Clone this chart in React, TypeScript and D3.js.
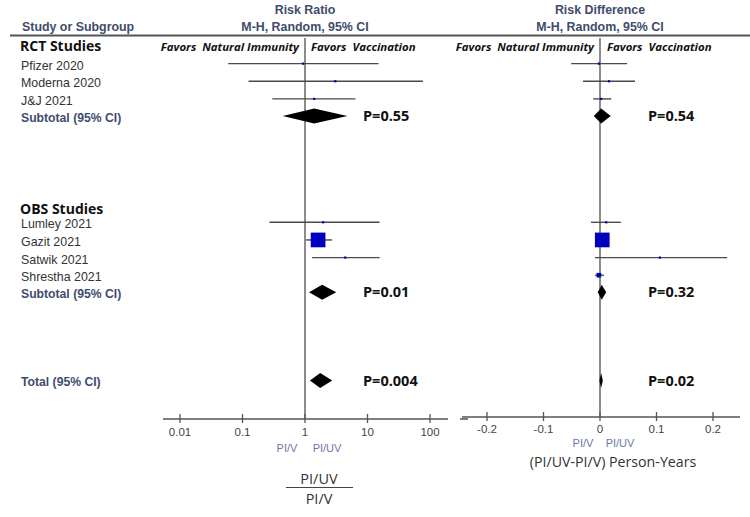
import React from "react";
import { scaleLog, scaleLinear, scaleSqrt } from "d3";

// ---- data ----
const rowLabels = ["Pfizer 2020", "Moderna 2020", "J&J 2021", "Lumley 2021", "Gazit 2021", "Satwik 2021", "Shrestha 2021"];
const rowIndex = [1, 2, 3, 10, 11, 12, 13];
const groupLabels = ["RCT Studies", "OBS Studies"];
const groupIndex = [0, 9.25];
const summaryLabels = ["Subtotal (95% CI)", "Subtotal (95% CI)", "Total (95% CI)"];
const summaryIndex = [4, 14, 19];

// risk ratio per study: estimate, lower, upper (Shrestha not estimable)
const rrEst = [0.93, 3.05, 1.4, 1.95, 1.62, 4.4, null];
const rrLow = [0.059, 0.125, 0.3, 0.27, 1.04, 1.3, null];
const rrHigh = [15, 77, 6.4, 15.6, 2.72, 15.6, null];
const rrWeight = [0.3, 0.3, 1.5, 0.8, 90, 0.8, 0];
const rrSumEst = [1.4, 1.88, 1.75];
const rrSumLow = [0.44, 1.16, 1.2];
const rrSumHigh = [4.76, 3.16, 2.72];
const rrP = ["P=0.55", "P=0.01", "P=0.004"];

// risk difference per study
const rdEst = [-0.002, 0.016, 0.002, 0.011, 0.004, 0.106, -0.002];
const rdLow = [-0.051, -0.03, -0.012, -0.016, 0.0, -0.009, -0.009];
const rdHigh = [0.048, 0.062, 0.02, 0.037, 0.008, 0.225, 0.007];
const rdWeight = [0.3, 0.3, 0.8, 0.3, 90, 0.3, 9];
const rdSumEst = [0.002, 0.003, 0.002];
const rdSumLow = [-0.011, -0.004, -0.001];
const rdSumHigh = [0.019, 0.011, 0.005];
const rdP = ["P=0.54", "P=0.32", "P=0.02"];

const rrTicks = [0.01, 0.1, 1, 10, 100];
const rrTickLabels = ["0.01", "0.1", "1", "10", "100"];
const rdTicks = [-0.2, -0.1, 0, 0.1, 0.2];
const rdTickLabels = ["-0.2", "-0.1", "0", "0.1", "0.2"];

const W = 750;
const H = 517;
const headColor = "#404c6c";
const lineColor = "#4a4a4a";
const boxColor = "#0000c0";
const arial = "'Liberation Sans', Arial, sans-serif";
const calibri = "'Open Sans', 'Noto Sans', sans-serif";

export default function App() {
  const y = scaleLinear().domain([0, 19]).range([46, 381]);
  const rrX = scaleLog().domain([0.01, 100]).range([180, 430]);
  const rdX = scaleLinear().domain([-0.2, 0.2]).range([487, 713]);
  const size = scaleSqrt().domain([0, 100]).range([0, 15.5]);
  const axisY = 419;
  const axisY2 = 417;

  const diamond = (lo: number, c: number, hi: number, cy: number, h: number) =>
    `M${lo},${cy} L${c},${cy - h / 2} L${hi},${cy} L${c},${cy + h / 2} Z`;

  const panel = (
    x: any,
    est: (number | null)[],
    low: (number | null)[],
    high: (number | null)[],
    weight: number[],
    sEst: number[],
    sLow: number[],
    sHigh: number[],
    pText: string[],
    pX: number,
    key: string
  ) => (
    <g key={key}>
      {est.map((e, i) => {
        if (e === null) return null;
        const cy = y(rowIndex[i]);
        const s = Math.max(2.2, size(weight[i]));
        return (
          <g key={i}>
            <line x1={x(low[i])} x2={x(high[i])} y1={cy} y2={cy} stroke={lineColor} strokeWidth={1.4} />
            <rect x={x(e) - s / 2} y={cy - s / 2} width={s} height={s} fill={boxColor} />
          </g>
        );
      })}
      {sEst.map((e, i) => {
        const cy = y(summaryIndex[i]) - 0.5;
        return (
          <g key={"s" + i}>
            <path d={diamond(x(sLow[i]), x(e), x(sHigh[i]), cy, 15)} fill="#000" />
            <text x={pX} y={cy + 5} fontFamily={calibri} fontWeight={700} fontSize={14.5} fill="#111">
              {pText[i]}
            </text>
          </g>
        );
      })}
    </g>
  );

  return (
    <svg width={W} height={H} style={{ position: "absolute", left: 0, top: 0, background: "#fff" }}>
      {/* header */}
      <g fontFamily={arial} fontWeight={700} fontSize={12.4} fill={headColor}>
        <text x={rrX(1)} y={14} textAnchor="middle">Risk Ratio</text>
        <text x={rrX(1)} y={31} textAnchor="middle">M-H, Random, 95% CI</text>
        <text x={rdX(0)} y={14} textAnchor="middle">Risk Difference</text>
        <text x={rdX(0)} y={31} textAnchor="middle">M-H, Random, 95% CI</text>
        <text x={22} y={31}>Study or Subgroup</text>
      </g>
      <line x1={10} x2={W} y1={35.5} y2={35.5} stroke="#555" strokeWidth={1.8} />

      {/* favours labels */}
      <g fontFamily={calibri} fontStyle="italic" fontWeight={700} fontSize={11.4} fill="#111">
        <text xmlSpace="preserve" style={{ whiteSpace: "pre" }} x={rrX(1) - 6} y={51} textAnchor="end">{"Favors  Natural Immunity"}</text>
        <text xmlSpace="preserve" style={{ whiteSpace: "pre" }} x={rrX(1) + 6} y={51}>{"Favors  Vaccination"}</text>
        <text xmlSpace="preserve" style={{ whiteSpace: "pre" }} x={rdX(0) - 6} y={51} textAnchor="end">{"Favors  Natural Immunity"}</text>
        <text xmlSpace="preserve" style={{ whiteSpace: "pre" }} x={rdX(0) + 7} y={51}>{"Favors  Vaccination"}</text>
      </g>

      {/* row labels */}
      {groupLabels.map((g, i) => (
        <text key={g} x={20} y={y(groupIndex[i]) + 5} fontFamily={calibri} fontWeight={700} fontSize={14} fill="#111">
          {g}
        </text>
      ))}
      {rowLabels.map((r, i) => (
        <text key={r} x={21} y={y(rowIndex[i]) + 6} fontFamily={arial} fontSize={12.4} fill="#333">
          {r}
        </text>
      ))}
      {summaryLabels.map((s, i) => (
        <text key={i} x={21} y={y(summaryIndex[i]) + 5} fontFamily={arial} fontWeight={700} fontSize={12.2} fill={headColor}>
          {s}
        </text>
      ))}

      {/* null lines */}
      <line x1={rrX(1)} x2={rrX(1)} y1={38} y2={axisY} stroke="#666" strokeWidth={1.5} />
      <line x1={rdX(0)} x2={rdX(0)} y1={38} y2={axisY2} stroke="#666" strokeWidth={1.5} />

      {panel(rrX, rrEst, rrLow, rrHigh, rrWeight, rrSumEst, rrSumLow, rrSumHigh, rrP, 363, "rr")}
      {panel(rdX, rdEst, rdLow, rdHigh, rdWeight, rdSumEst, rdSumLow, rdSumHigh, rdP, 648, "rd")}

      {/* risk ratio axis */}
      <line x1={rrX(0.01) - 17} x2={rrX(100) + 18} y1={axisY} y2={axisY} stroke="#555" strokeWidth={1.5} />
      <line x1={rrX(100) + 30} x2={rrX(100) + 38} y1={axisY} y2={axisY} stroke="#555" strokeWidth={1.5} />
      {rrTicks.map((t, i) => (
        <g key={t}>
          <line x1={rrX(t)} x2={rrX(t)} y1={axisY - 5} y2={axisY + 4} stroke="#555" strokeWidth={1.3} />
          <text x={rrX(t)} y={axisY + 17} textAnchor="middle" fontFamily={arial} fontSize={11.5} fill="#444">
            {rrTickLabels[i]}
          </text>
        </g>
      ))}
      <text x={rrX(1) - 18} y={axisY + 33} textAnchor="middle" fontFamily={arial} fontSize={11} fill="#6a78a8">PI/V</text>
      <text x={rrX(1) + 22} y={axisY + 33} textAnchor="middle" fontFamily={arial} fontSize={11} fill="#6a78a8">PI/UV</text>
      <text x={rrX(1) + 14} y={484} textAnchor="middle" fontFamily={calibri} fontSize={14.5} fill="#333">PI/UV</text>
      <line x1={rrX(1) - 19} x2={rrX(1) + 48} y1={487.5} y2={487.5} stroke="#444" strokeWidth={1.2} />
      <text x={rrX(1) + 14} y={504} textAnchor="middle" fontFamily={calibri} fontSize={14.5} fill="#333">PI/V</text>

      {/* risk difference axis */}
      <line x1={rdX(-0.2) - 25} x2={rdX(0.2) + 27} y1={axisY2} y2={axisY2} stroke="#555" strokeWidth={1.5} />
      {rdTicks.map((t, i) => (
        <g key={t}>
          <line x1={rdX(t)} x2={rdX(t)} y1={axisY2 - 5} y2={axisY2 + 4} stroke="#555" strokeWidth={1.3} />
          <text x={rdX(t)} y={axisY2 + 16} textAnchor="middle" fontFamily={arial} fontSize={11.5} fill="#444">
            {rdTickLabels[i]}
          </text>
        </g>
      ))}
      <text x={rdX(0) - 17} y={axisY2 + 30} textAnchor="middle" fontFamily={arial} fontSize={11} fill="#6a78a8">PI/V</text>
      <text x={rdX(0) + 20} y={axisY2 + 30} textAnchor="middle" fontFamily={arial} fontSize={11} fill="#6a78a8">PI/UV</text>
      <text x={rdX(0) + 13} y={467} textAnchor="middle" fontFamily={calibri} fontSize={14.2} fill="#333">
        (PI/UV-PI/V) Person-Years
      </text>
    </svg>
  );
}
